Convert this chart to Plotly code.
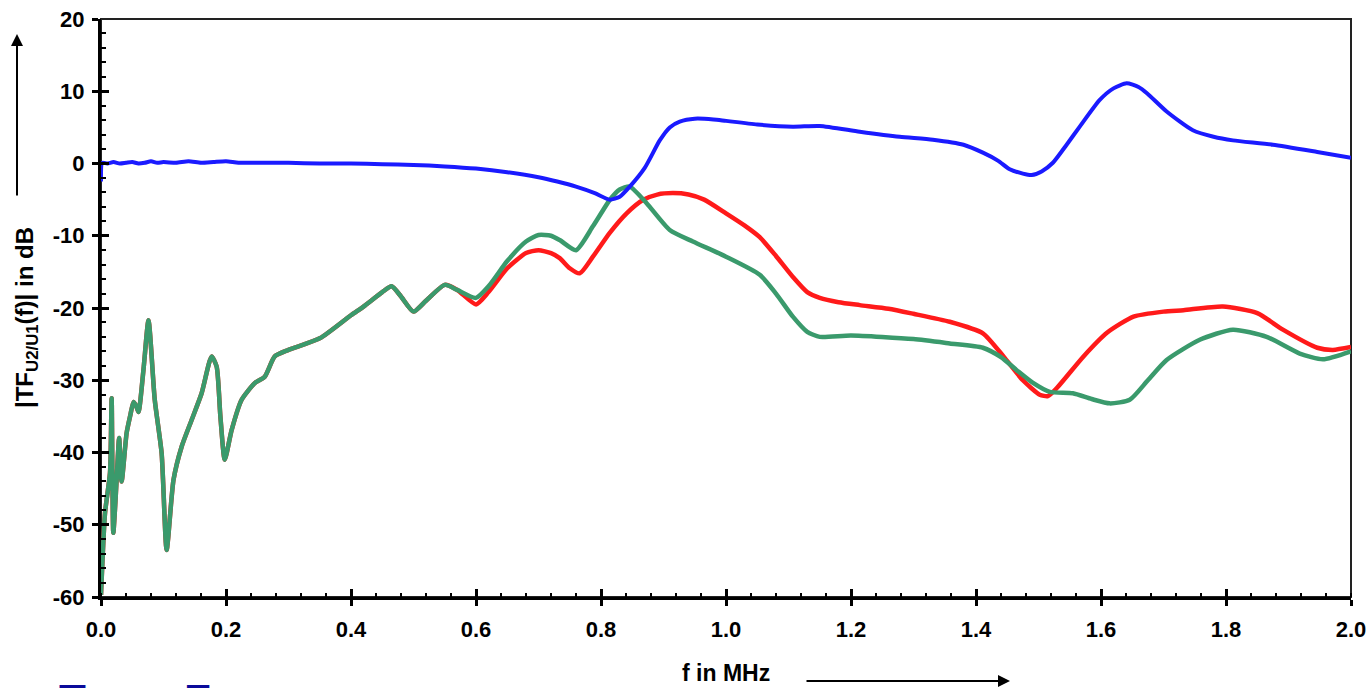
import plotly.graph_objects as go

# ---------------- data ----------------
blue_f = [0, 0.002, 0.01, 0.02, 0.03, 0.04, 0.05, 0.06, 0.07, 0.08, 0.09, 0.1, 0.12, 0.14,
          0.16, 0.18, 0.2, 0.22, 0.25, 0.3, 0.35, 0.4, 0.45, 0.5, 0.55, 0.6, 0.65, 0.7, 0.73,
          0.76, 0.79, 0.814, 0.83, 0.846, 0.87, 0.894, 0.91, 0.926, 0.95, 0.98, 1.0, 1.05,
          1.107, 1.15, 1.214, 1.278, 1.331, 1.38, 1.411, 1.435, 1.454, 1.475, 1.489, 1.505,
          1.523, 1.545, 1.566, 1.598, 1.62, 1.641, 1.66, 1.674, 1.705, 1.747, 1.78, 1.811,
          1.875, 1.946, 2.0]
blue_db = [-2.5, 0.1, 0.0, 0.2, 0.0, 0.1, 0.2, 0.0, 0.1, 0.3, 0.1, 0.2, 0.1, 0.3,
           0.1, 0.2, 0.3, 0.1, 0.1, 0.1, 0.0, 0.0, -0.1, -0.2, -0.4, -0.7, -1.2, -1.9, -2.5,
           -3.2, -4.1, -5.0, -4.6, -3.2, -0.6, 3.2, 5.0, 5.8, 6.2, 6.1, 5.9, 5.4,
           5.1, 5.2, 4.4, 3.7, 3.3, 2.6, 1.5, 0.4, -0.8, -1.4, -1.6, -1.1,
           0.1, 2.6, 5.1, 8.8, 10.4, 11.1, 10.6, 9.7, 7.2, 4.6, 3.7, 3.2,
           2.6, 1.6, 0.8]

low_f = [0.0, 0.0064, 0.0144, 0.017, 0.0197, 0.025, 0.029, 0.033, 0.041, 0.047, 0.052,
         0.056, 0.06, 0.068, 0.076, 0.086, 0.097, 0.105, 0.116, 0.129, 0.145, 0.161, 0.177,
         0.185, 0.191, 0.198, 0.209, 0.225, 0.246, 0.262, 0.278, 0.3, 0.35, 0.4, 0.42, 0.45,
         0.465, 0.48, 0.5, 0.52, 0.55, 0.57]
low_db = [-59.7, -48.4, -42.8, -32.5, -51.1, -43.8, -38.0, -44.0, -37.3, -34.8, -33.0,
          -33.5, -34.4, -28.5, -21.7, -32.7, -40.1, -53.5, -43.8, -39.2, -35.5, -31.8, -26.7,
          -28.1, -35.0, -41.0, -36.9, -32.7, -30.4, -29.5, -26.7, -25.8, -24.2, -21.0, -19.8, -17.8,
          -17.0, -18.4, -20.5, -19.0, -16.8, -17.5]

red_f = [0.6, 0.62, 0.65, 0.68, 0.7, 0.72, 0.734, 0.75, 0.766, 0.787, 0.814, 0.841, 0.867,
         0.89, 0.915, 0.94, 0.965, 1.0, 1.03, 1.054, 1.08, 1.107, 1.13, 1.15, 1.18, 1.214, 1.26,
         1.3, 1.358, 1.411, 1.444, 1.475, 1.502, 1.515, 1.53, 1.572, 1.61, 1.652, 1.7, 1.732,
         1.795, 1.85, 1.891, 1.946, 1.971, 2.0]
red_db = [-19.5, -17.8, -14.5, -12.4, -12.0, -12.4, -13.1, -14.5, -15.2, -12.9, -9.6, -6.9, -5.05,
          -4.3, -4.1, -4.3, -5.0, -6.9, -8.6, -10.2, -12.8, -15.7, -17.8, -18.6, -19.2, -19.6, -20.1,
          -20.8, -21.9, -23.5, -26.7, -30.0, -32.0, -32.2, -31.0, -26.7, -23.4, -21.2, -20.5, -20.3,
          -19.8, -20.7, -23.0, -25.5, -25.8, -25.4]

green_f = [0.6, 0.62, 0.65, 0.68, 0.7, 0.72, 0.734, 0.76, 0.787, 0.814, 0.83, 0.846, 0.873,
           0.91, 0.947, 1.0, 1.054, 1.08, 1.107, 1.13, 1.15, 1.2, 1.3, 1.358, 1.411, 1.44, 1.465,
           1.49, 1.518, 1.555, 1.585, 1.614, 1.646, 1.675, 1.705, 1.758, 1.811, 1.865, 1.918,
           1.955, 2.0]
green_db = [-18.6, -17.0, -13.5, -10.8, -9.9, -10.0, -10.6, -12.0, -8.7, -5.05, -3.6, -3.2, -5.5,
            -9.2, -10.8, -12.9, -15.4, -18.0, -21.2, -23.3, -24.0, -23.8, -24.3, -24.9, -25.5,
            -26.8, -28.6, -30.3, -31.6, -31.8, -32.6, -33.2, -32.7, -30.0, -27.2, -24.4, -23.0,
            -24.0, -26.3, -27.1, -26.0]

y_tick_vals = [20, 10, 0, -10, -20, -30, -40, -50, -60]
y_tick_text = ["20", "10", "0", "-10", "-20", "-30", "-40", "-50", "-60"]

# ---------------- figure ----------------
W, H = 1368, 688
ML, MR, MT, MB = 101, 17, 19, 91
PW, PH = W - ML - MR, H - MT - MB

RED = "#ff1a1a"
GREEN = "#3a9a6c"
BLUE = "#1a1aff"
FONT = "Liberation Sans, Arial, sans-serif"

fig = go.Figure()
fig.add_trace(go.Scatter(x=low_f + red_f, y=low_db + red_db, mode="lines",
                         line=dict(color=RED, width=4.5, shape="spline", smoothing=0.6),
                         hoverinfo="skip", showlegend=False))
fig.add_trace(go.Scatter(x=low_f + green_f, y=low_db + green_db, mode="lines",
                         line=dict(color=GREEN, width=4.5, shape="spline", smoothing=0.6),
                         hoverinfo="skip", showlegend=False))
fig.add_trace(go.Scatter(x=blue_f, y=blue_db, mode="lines",
                         line=dict(color=BLUE, width=4, shape="spline", smoothing=0.6),
                         hoverinfo="skip", showlegend=False))
# empty trace so the overlay axes (inside tick marks) render
fig.add_trace(go.Scatter(x=[], y=[], xaxis="x2", yaxis="y2", showlegend=False))

tickfont = dict(family=FONT, size=22, color="black", weight="bold")

fig.update_layout(
    width=W, height=H,
    margin=dict(l=ML, r=MR, t=MT, b=MB, autoexpand=False),
    paper_bgcolor="white", plot_bgcolor="white",
    font=dict(family=FONT, color="black"),
    xaxis=dict(range=[0, 2], tickmode="linear", tick0=0, dtick=0.2, tickformat=".1f",
               automargin=False,
               showgrid=False, zeroline=False, showline=True, linecolor="black", linewidth=3,
               ticks="outside", ticklen=6, tickwidth=3, tickcolor="black",
               tickfont=tickfont, ticklabelstandoff=5,
               minor=dict(dtick=0.04, tick0=0, ticks="inside", ticklen=4, tickwidth=2,
                          tickcolor="black", showgrid=False)),
    yaxis=dict(range=[-60, 20], tickmode="array", tickvals=y_tick_vals, ticktext=y_tick_text,
               automargin=False,
               showgrid=False, zeroline=False, showline=True, linecolor="black", linewidth=3,
               ticks="outside", ticklen=6, tickwidth=3, tickcolor="black",
               tickfont=tickfont, ticklabelstandoff=3),
    xaxis2=dict(range=[0, 2], overlaying="x", anchor="y2", side="bottom", automargin=False,
                tickmode="linear", tick0=0, dtick=0.2, showticklabels=False,
                showgrid=False, zeroline=False, showline=False,
                ticks="inside", ticklen=8, tickwidth=3, tickcolor="black"),
    yaxis2=dict(range=[-60, 20], overlaying="y", anchor="x2", side="left", automargin=False,
                tickmode="linear", tick0=0, dtick=10, showticklabels=False,
                showgrid=False, zeroline=False, showline=False,
                ticks="inside", ticklen=8, tickwidth=3, tickcolor="black",
                minor=dict(dtick=2, tick0=0, ticks="inside", ticklen=5, tickwidth=2,
                           tickcolor="black", showgrid=False)),
)

# thin frame on top/right
fig.add_shape(type="rect", xref="paper", yref="paper", x0=0, x1=1, y0=0, y1=1,
              line=dict(color="#222222", width=2), layer="below")

def px_x(px):
    return (px - ML) / PW

def px_y(py):
    return (H - MB - py) / PH

# y-axis title
fig.add_annotation(xref="paper", yref="paper", x=px_x(26), y=px_y(318),
                   text="<b>|TF<sub>U2/U1</sub>(f)| in dB</b>", textangle=-90,
                   showarrow=False, font=dict(family=FONT, size=24, color="black"),
                   xanchor="center", yanchor="middle")
# y arrow
fig.add_annotation(xref="paper", yref="paper", x=px_x(17), y=px_y(34), ax=0, ay=163,
                   text="", showarrow=True, arrowhead=2, arrowsize=1.2, arrowwidth=2,
                   arrowcolor="black")
# x-axis title
fig.add_annotation(xref="paper", yref="paper", x=px_x(726), y=px_y(673),
                   text="<b>f in MHz</b>", showarrow=False,
                   font=dict(family=FONT, size=23, color="black"),
                   xanchor="center", yanchor="middle")
# x arrow
fig.add_annotation(xref="paper", yref="paper", x=px_x(1010), y=px_y(681), ax=-205, ay=0,
                   text="", showarrow=True, arrowhead=2, arrowsize=1.2, arrowwidth=2,
                   arrowcolor="black")
# cut-off dark-blue caption at the very bottom
for ch, cx in (("T", 72), ("F", 197)):
    fig.add_annotation(xref="paper", yref="paper", x=px_x(cx), y=px_y(674),
                       text="<b>" + ch + "</b>", showarrow=False,
                       font=dict(family=FONT, size=44, color="#0a0a9a"),
                       xanchor="center", yanchor="top")

fig.write_html("out.html")
